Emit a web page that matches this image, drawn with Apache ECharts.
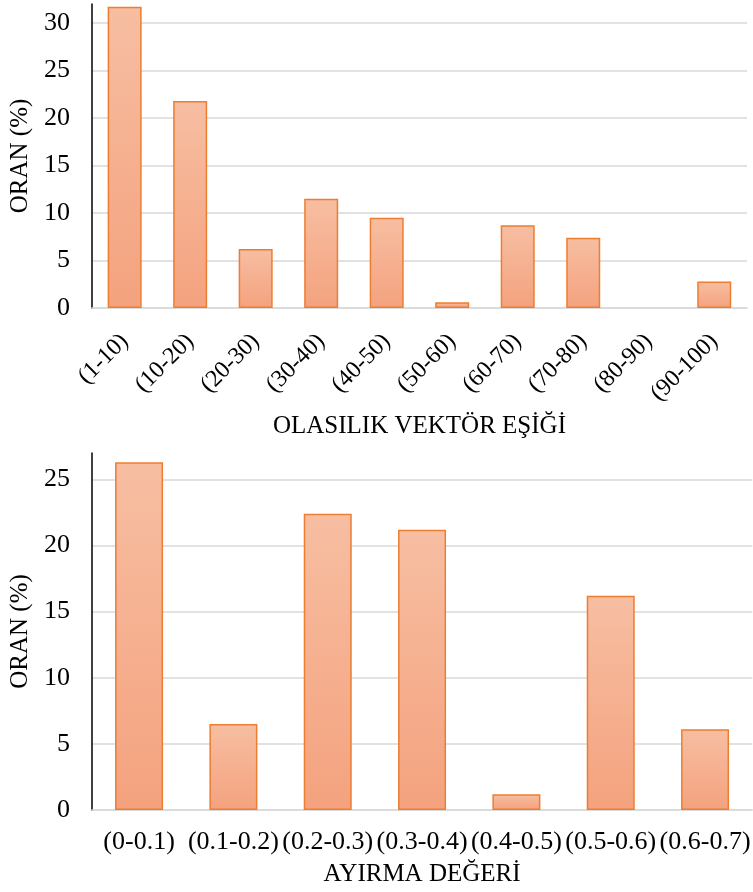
<!DOCTYPE html>
<html>
<head>
<meta charset="utf-8">
<script src="https://cdn.jsdelivr.net/npm/echarts@6/dist/echarts.min.js"></script>
<style>
  html, body { margin: 0; padding: 0; background: #fff; }
  #chart { width: 753px; height: 892px; }
</style>
</head>
<body>
<div id="chart"></div>
<script>
// Upper panel: share of cases per probability-vector threshold band
const thresholdBands = ['(1-10)', '(10-20)', '(20-30)', '(30-40)', '(40-50)', '(50-60)', '(60-70)', '(70-80)', '(80-90)', '(90-100)'];
const thresholdShare = [31.7, 21.8, 6.2, 11.5, 9.5, 0.6, 8.7, 7.4, 0, 2.8];

// Lower panel: share of cases per separation-value band
const separationBands = ['(0-0.1)', '(0.1-0.2)', '(0.2-0.3)', '(0.3-0.4)', '(0.4-0.5)', '(0.5-0.6)', '(0.6-0.7)'];
const separationShare = [26.3, 6.5, 22.4, 21.2, 1.2, 16.2, 6.1];

const yAxisTitle = 'ORAN (%)';
const topXAxisTitle = 'OLASILIK VEKTÖR EŞİĞİ';
const bottomXAxisTitle = 'AYIRMA DEĞERİ';

const FONT = '"Liberation Serif", "Times New Roman", serif';
const GRID_COLOR = '#D9D9D9';

const barFill = new echarts.graphic.LinearGradient(0, 0, 0, 1, [
  { offset: 0, color: '#F7BEA2' },
  { offset: 1, color: '#F4A27E' }
]);

const barStyle = {
  color: barFill,
  borderColor: '#ED7D31',
  borderWidth: 1.5
};

// Empty bands get no outline so nothing is stroked along the baseline
function barData(values) {
  return values.map(v => v === 0 ? { value: v, itemStyle: { borderWidth: 0 } } : v);
}

function valueAxis(gridIndex, max) {
  return {
    type: 'value',
    gridIndex: gridIndex,
    min: 0,
    max: max,
    interval: 5,
    name: yAxisTitle,
    nameLocation: 'middle',
    nameGap: 51,
    nameRotate: 90,
    nameTextStyle: { fontFamily: FONT, fontSize: 25, color: '#000' },
    axisLine: { show: true, lineStyle: { color: '#000', width: 1.5 } },
    axisTick: { show: false },
    axisLabel: {
      fontFamily: FONT, fontSize: 26, color: '#000', margin: 22,
      showMaxLabel: false
    },
    splitLine: { show: true, showMaxLine: false, lineStyle: { color: GRID_COLOR, width: 1.5 } }
  };
}

const option = {
  animation: false,
  backgroundColor: '#fff',
  grid: [
    { left: 90, right: 6, top: 4, bottom: 584 },
    { left: 90, right: -5, top: 453, bottom: 82 }
  ],
  xAxis: [
    {
      type: 'category',
      gridIndex: 0,
      data: thresholdBands,
      name: topXAxisTitle,
      nameLocation: 'middle',
      nameGap: 106,
      nameTextStyle: { fontFamily: FONT, fontSize: 25, color: '#000' },
      axisLine: { lineStyle: { color: GRID_COLOR, width: 1.5 } },
      axisTick: { show: false },
      axisLabel: {
        interval: 0, rotate: 45, margin: 30,
        fontFamily: FONT, fontSize: 24, color: '#000'
      }
    },
    {
      type: 'category',
      gridIndex: 1,
      data: separationBands,
      name: bottomXAxisTitle,
      nameLocation: 'middle',
      nameGap: 52,
      nameTextStyle: { fontFamily: FONT, fontSize: 25, color: '#000' },
      axisLine: { lineStyle: { color: GRID_COLOR, width: 1.5 } },
      axisTick: { show: false },
      axisLabel: {
        interval: 0, margin: 19,
        fontFamily: FONT, fontSize: 26, color: '#000'
      }
    }
  ],
  yAxis: [valueAxis(0, 32), valueAxis(1, 27)],
  series: [
    {
      type: 'bar',
      xAxisIndex: 0,
      yAxisIndex: 0,
      data: barData(thresholdShare),
      barWidth: 34,
      itemStyle: barStyle
    },
    {
      type: 'bar',
      xAxisIndex: 1,
      yAxisIndex: 1,
      data: barData(separationShare),
      barWidth: 48,
      itemStyle: barStyle
    }
  ]
};

const chart = echarts.init(document.getElementById('chart'), null, { renderer: 'canvas' });
chart.setOption(option);
</script>
</body>
</html>
